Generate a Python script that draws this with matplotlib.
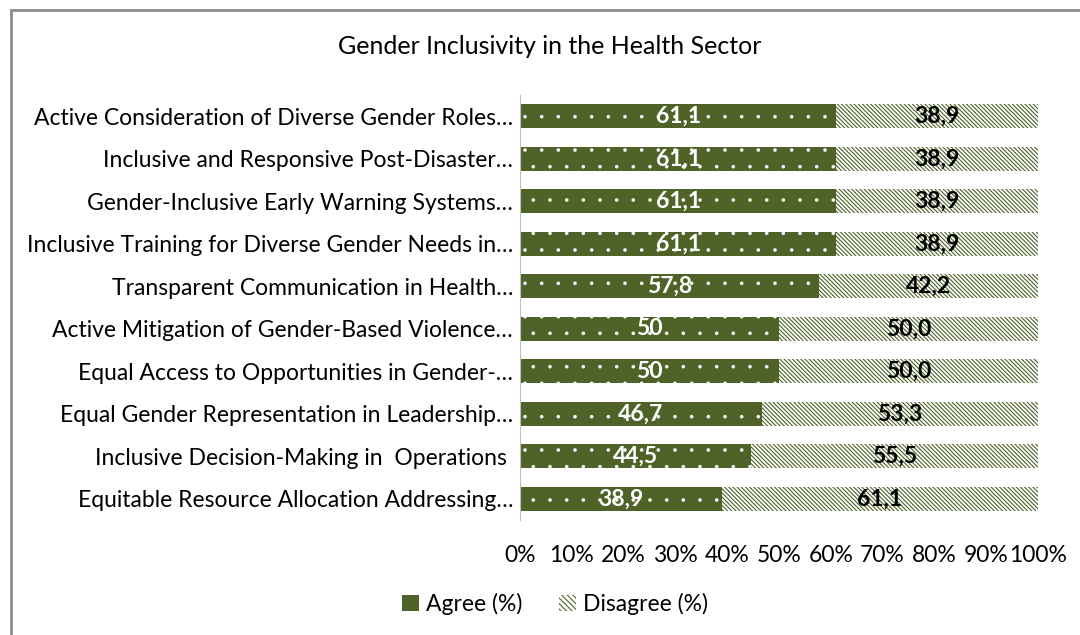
import matplotlib.pyplot as plt
from matplotlib.patches import Rectangle, Patch
from matplotlib.ticker import PercentFormatter

plt.rcParams['font.family'] = ['Lato', 'DejaVu Sans']

categories = [
    "Active Consideration of Diverse Gender Roles…",
    "Inclusive and Responsive Post-Disaster…",
    "Gender-Inclusive Early Warning Systems…",
    "Inclusive Training for Diverse Gender Needs in…",
    "Transparent Communication in Health…",
    "Active Mitigation of Gender-Based Violence…",
    "Equal Access to Opportunities in Gender-…",
    "Equal Gender Representation in Leadership…",
    "Inclusive Decision-Making in  Operations ",
    "Equitable Resource Allocation Addressing…",
]
agree = [61.1, 61.1, 61.1, 61.1, 57.8, 50, 50, 46.7, 44.5, 38.9]
disagree = [38.9, 38.9, 38.9, 38.9, 42.2, 50.0, 50.0, 53.3, 55.5, 61.1]
agree_labels = ["61,1", "61,1", "61,1", "61,1", "57,8", "50", "50", "46,7", "44,5", "38,9"]
disagree_labels = ["38,9", "38,9", "38,9", "38,9", "42,2", "50,0", "50,0", "53,3", "55,5", "61,1"]

olive = '#4f6228'
dots = '.'
stripes = '\\' * 8


def thin_hatch(artists, lw):
    for a in artists:
        if hasattr(a, 'set_hatch_linewidth'):
            a.set_hatch_linewidth(lw)


fig = plt.figure(figsize=(10.8, 6.35), dpi=100)
fig.patches.append(Rectangle((10.5 / 1080, -0.1), 1.2, 1.1 - 9.5 / 635,
                             transform=fig.transFigure, fill=False,
                             edgecolor='#8c8c8c', linewidth=2))
ax = fig.add_axes([520 / 1080, 1 - 520 / 635, 518 / 1080, 425 / 635])

y = list(range(len(categories)))
h = 0.57
with plt.rc_context({'hatch.linewidth': 0.15}):
    b1 = ax.barh(y, agree, height=h, color=olive, hatch=dots, edgecolor='white', linewidth=0)
with plt.rc_context({'hatch.linewidth': 0.8}):
    b2 = ax.barh(y, disagree, left=agree, height=h, color='white', hatch=stripes,
                 edgecolor=olive, linewidth=0)
thin_hatch(b1, 0.15)
thin_hatch(b2, 0.8)

for i in y:
    ax.text(agree[i] / 2, i, agree_labels[i], ha='center', va='center',
            color='white', fontsize=16.5, fontweight='bold')
    ax.text(agree[i] + disagree[i] / 2, i, disagree_labels[i], ha='center', va='center',
            color='black', fontsize=16.5, fontweight='bold')

ax.set_yticks(y)
ax.set_yticklabels(categories, fontsize=16.5)
ax.set_ylim(len(categories) - 0.5, -0.5)
ax.set_xlim(0, 100)
ax.set_xticks(range(0, 101, 10))
ax.xaxis.set_major_formatter(PercentFormatter(decimals=0))
ax.tick_params(axis='x', labelsize=16.5, length=0, pad=18)
ax.tick_params(axis='y', length=0, pad=5)
for s in ['top', 'right', 'bottom']:
    ax.spines[s].set_visible(False)
ax.spines['left'].set_color('#bfbfbf')

fig.text(550 / 1080, 1 - 47 / 635, "Gender Inclusivity in the Health Sector",
         ha='center', va='center', fontsize=18)

with plt.rc_context({'hatch.linewidth': 0.8}):
    handles = [Patch(facecolor=olive, edgecolor=olive, linewidth=0, label='Agree (%)'),
               Patch(facecolor='white', edgecolor=olive, hatch='\\' * 6, linewidth=0,
                     label='Disagree (%)')]
    fig.legend(handles=handles, loc='center', bbox_to_anchor=(555 / 1080, 1 - 604 / 635),
               ncol=2, frameon=False, fontsize=16.5, handlelength=0.75, handleheight=0.75,
               handletextpad=0.3, columnspacing=1.6)

fig.savefig('out.png', dpi=100)
